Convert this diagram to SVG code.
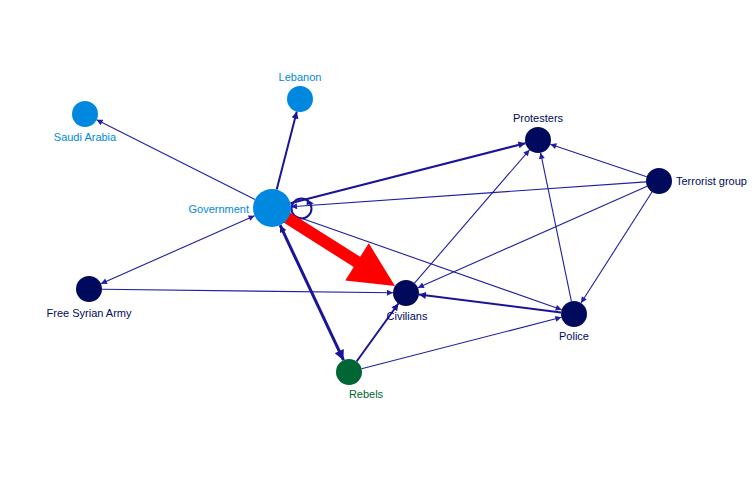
<svg xmlns="http://www.w3.org/2000/svg" width="756" height="500" viewBox="0 0 756 500">
<style>
.e{stroke:#1f1fa3;stroke-width:1.1;fill:none;marker-end:url(#a)}
.e2{stroke:#1a1496;stroke-width:2;fill:none;marker-end:url(#a2)}
.lab{font-family:"Liberation Sans",Arial,sans-serif;font-size:11px}
.dk{fill:#000a5c}
.lb{fill:#0088e0}
.tdk{fill:#000a5c}
.tlb{fill:#0088e0}
</style>
<defs>
<marker id="a" markerUnits="userSpaceOnUse" viewBox="0 0 10 10" refX="10" refY="5" markerWidth="8" markerHeight="6" orient="auto-start-reverse"><path d="M0,0L10,5L0,10z" fill="#1f1fa3"/></marker>
<marker id="a2" markerUnits="userSpaceOnUse" viewBox="0 0 10 10" refX="10" refY="5" markerWidth="9" markerHeight="7" orient="auto-start-reverse"><path d="M0,0L10,5L0,10z" fill="#1a1496"/></marker>
<marker id="a3" markerUnits="userSpaceOnUse" viewBox="0 0 10 10" refX="10" refY="5" markerWidth="12" markerHeight="10" orient="auto-start-reverse"><path d="M0,0L10,5L0,10z" fill="#1a1496"/></marker>
</defs>
<rect width="756" height="500" fill="#ffffff"/>
<g id="edges">
<line class="e2" x1="276.7" y1="189.6" x2="296.8" y2="111.6"/>
<line class="e" x1="255" y1="199.5" x2="96.6" y2="119.8"/>
<line class="e" x1="254.6" y1="215.7" x2="100.9" y2="283.7" style="marker-start:url(#a)"/>
<line class="e" x1="102" y1="289.2" x2="393" y2="292.8"/>
<line class="e2" x1="290.4" y1="203.3" x2="525.4" y2="143.2"/>
<line class="e" x1="646" y1="181.9" x2="291" y2="206.7"/>
<line class="e" x1="646.7" y1="176.8" x2="550.3" y2="144.2"/>
<line class="e" x1="647.1" y1="186.3" x2="417.9" y2="287.7"/>
<line class="e" x1="652" y1="192" x2="581" y2="303"/>
<line class="e" x1="290" y1="214.3" x2="561.7" y2="309.7"/>
<line class="e" x1="414.5" y1="283.2" x2="529.5" y2="149.8"/>
<line class="e" x1="571.4" y1="301.3" x2="540.6" y2="152.7"/>
<line class="e2" x1="561.1" y1="312.4" x2="418.9" y2="294.6"/>
<line class="e" x1="361.6" y1="368.8" x2="561.4" y2="317.3"/>
<line class="e2" x1="356.6" y1="361.5" x2="398.4" y2="303.5"/>
<line x1="280.1" y1="225.2" x2="343.5" y2="360.2" stroke="#1a1496" stroke-width="3" marker-end="url(#a3)" marker-start="url(#a2)"/>
<circle cx="301.5" cy="208.5" r="10" fill="none" stroke="#1a1496" stroke-width="2"/>
<path d="M307,199.5L314,203.5L306.5,205z" fill="#1a1496"/>
<polygon points="282.8,222.1 289.2,211.9 360.2,256.8 368.8,243.3 395,286 345.2,280.5 353.8,267" fill="#ff0000"/>
</g>
<g id="government"><circle class="lb" cx="272" cy="208" r="19"/><text class="lab tlb" x="249" y="213" text-anchor="end">Government</text></g>
<g id="lebanon"><circle class="lb" cx="300" cy="99" r="13"/><text class="lab tlb" x="300" y="81" text-anchor="middle">Lebanon</text></g>
<g id="saudi-arabia"><circle class="lb" cx="85" cy="114" r="13"/><text class="lab tlb" x="85" y="141" text-anchor="middle">Saudi Arabia</text></g>
<g id="protesters"><circle class="dk" cx="538" cy="140" r="13"/><text class="lab tdk" x="538" y="122" text-anchor="middle">Protesters</text></g>
<g id="terrorist-group"><circle class="dk" cx="659" cy="181" r="13"/><text class="lab tdk" x="676" y="185">Terrorist group</text></g>
<g id="civilians"><circle class="dk" cx="406" cy="293" r="13"/><text class="lab tdk" x="407" y="320" text-anchor="middle">Civilians</text></g>
<g id="police"><circle class="dk" cx="574" cy="314" r="13"/><text class="lab tdk" x="574" y="340" text-anchor="middle">Police</text></g>
<g id="free-syrian-army"><circle class="dk" cx="89" cy="289" r="13"/><text class="lab tdk" x="89" y="317" text-anchor="middle">Free Syrian Army</text></g>
<g id="rebels"><circle cx="349" cy="372" r="13" fill="#006633"/><text class="lab" x="366" y="398" text-anchor="middle" fill="#006633">Rebels</text></g>
</svg>
